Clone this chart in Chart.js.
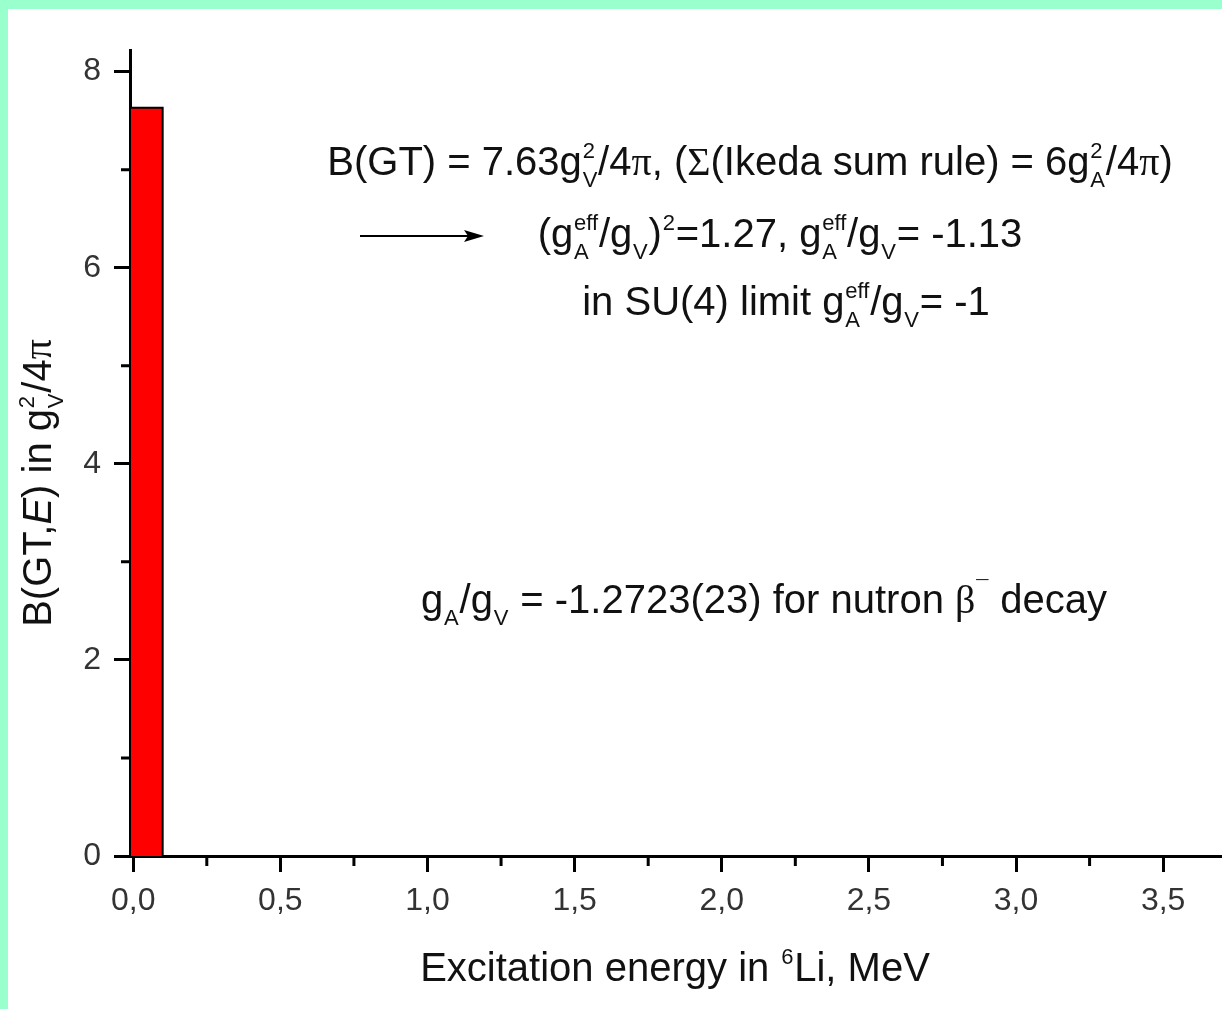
<!DOCTYPE html>
<html><head><meta charset="utf-8">
<script src="https://cdn.jsdelivr.net/npm/chart.js@4.4.1/dist/chart.umd.min.js"></script>
<style>
html,body{margin:0;padding:0;background:#99ffcc;overflow:hidden;width:1222px;height:1009px}
#wrap{position:absolute;left:8px;top:9px;width:1214px;height:1000px;background:#fff}
canvas{display:block}
</style></head><body><div id="wrap"><canvas id="c" width="1214" height="1000"></canvas></div>
<script>
// ---- data ----
const binLeft = [-0.011];
const binRight = [0.1];
const bgtValues = [7.63];
const xTickValues = [0, 0.5, 1.0, 1.5, 2.0, 2.5, 3.0, 3.5];
const yTickValues = [0, 2, 4, 6, 8];
const xMinorTicks = [0.25, 0.75, 1.25, 1.75, 2.25, 2.75, 3.25];
const yMinorTicks = [1, 3, 5, 7];
const xRange = [-0.011, 3.70];
const yRange = [0, 8.22];

// histogram outline built from the bins
const barPoints = [];
binLeft.forEach((l, i) => {
  barPoints.push({x: l, y: 0}, {x: l, y: bgtValues[i]}, {x: binRight[i], y: bgtValues[i]}, {x: binRight[i], y: 0});
});

const SANS = '"Liberation Sans", Arial, sans-serif';
const SERIF = '"Liberation Serif", "Times New Roman", serif';

function fontFor(p, size) {
  if (p.f === 'serif') return size + 'px ' + SERIF;
  if (p.f === 'italic') return 'italic ' + size + 'px ' + SANS;
  return size + 'px ' + SANS;
}
const SC = 0.55;
function partWidth(ctx, p, size) {
  if (typeof p === 'string') { ctx.font = size + 'px ' + SANS; return ctx.measureText(p).width; }
  if (p.t !== undefined) { ctx.font = fontFor(p, size); return ctx.measureText(p.t).width; }
  ctx.font = Math.round(size * SC) + 'px ' + SANS;
  const a = p.sup ? ctx.measureText(p.sup).width : 0;
  const b = p.sub ? ctx.measureText(p.sub).width : 0;
  return Math.max(a, b) + size * 0.04;
}
function richWidth(ctx, parts, size) {
  return parts.reduce((s, p) => s + partWidth(ctx, p, size), 0);
}
function drawRich(ctx, parts, cx, y, size, color) {
  ctx.save();
  ctx.fillStyle = color;
  ctx.textBaseline = 'alphabetic';
  ctx.textAlign = 'left';
  let x = cx - richWidth(ctx, parts, size) / 2;
  for (const p of parts) {
    const w = partWidth(ctx, p, size);
    if (typeof p === 'string') { ctx.font = size + 'px ' + SANS; ctx.fillText(p, x, y); }
    else if (p.t !== undefined) { ctx.font = fontFor(p, size); ctx.fillText(p.t, x, y); }
    else {
      ctx.font = Math.round(size * SC) + 'px ' + SANS;
      if (p.sup) ctx.fillText(p.sup, x + size * 0.02, y - size * 0.42);
      if (p.sub) ctx.fillText(p.sub, x + size * 0.02, y + size * 0.3);
    }
    x += w;
  }
  ctx.restore();
}

const line1 = ['B(GT) = 7.63g', {sup: '2', sub: 'V'}, '/4', {t: 'π', f: 'serif'}, ', (', {t: 'Σ', f: 'serif'}, '(Ikeda sum rule) = 6g', {sup: '2', sub: 'A'}, '/4', {t: 'π', f: 'serif'}, ')'];
const line2 = ['(g', {sup: 'eff', sub: 'A'}, '/g', {sub: 'V'}, ')', {sup: '2'}, '=1.27, g', {sup: 'eff', sub: 'A'}, '/g', {sub: 'V'}, '= -1.13'];
const line3 = ['in SU(4) limit g', {sup: 'eff', sub: 'A'}, '/g', {sub: 'V'}, '= -1'];
const line4 = ['g', {sub: 'A'}, '/g', {sub: 'V'}, ' = -1.2723(23) for nutron ', {t: 'β', f: 'serif'}, {sup: '¯'}, ' decay'];
const xTitle = ['Excitation energy in ', {sup: '6'}, 'Li, MeV'];
const yTitle = ['B(GT,', {t: 'E', f: 'italic'}, ') in g', {sup: '2', sub: 'V'}, '/4', {t: 'π', f: 'serif'}];

const extras = {
  id: 'extras',
  afterDraw(chart) {
    const ctx = chart.ctx;
    const xs = chart.scales.x, ys = chart.scales.y;
    const area = chart.chartArea;
    ctx.save();
    ctx.strokeStyle = '#000';
    ctx.lineWidth = 3;
    ctx.beginPath();
    xMinorTicks.forEach(v => {
      const px = xs.getPixelForValue(v);
      ctx.moveTo(px, area.bottom); ctx.lineTo(px, area.bottom + 10);
    });
    yMinorTicks.forEach(v => {
      const py = ys.getPixelForValue(v);
      ctx.moveTo(area.left, py); ctx.lineTo(area.left - 9, py);
    });
    ctx.stroke();
    // arrow
    ctx.lineWidth = 2;
    ctx.beginPath(); ctx.moveTo(352, 227); ctx.lineTo(466, 227); ctx.stroke();
    ctx.fillStyle = '#000';
    ctx.beginPath(); ctx.moveTo(476, 227); ctx.lineTo(456, 221); ctx.lineTo(460, 227); ctx.lineTo(456, 233); ctx.closePath(); ctx.fill();
    ctx.restore();

    const TXT = '#111';
    drawRich(ctx, line1, 742, 166, 40, TXT);
    drawRich(ctx, line2, 772, 238, 40, TXT);
    drawRich(ctx, line3, 778, 306, 40, TXT);
    drawRich(ctx, line4, 756, 604, 40, TXT);
    drawRich(ctx, xTitle, 667, 972, 40, TXT);
    ctx.save();
    ctx.translate(43, 474);
    ctx.rotate(-Math.PI / 2);
    drawRich(ctx, yTitle, 0, 0, 40, TXT);
    ctx.restore();
  }
};

const tickFont = {family: SANS, size: 32};
new Chart(document.getElementById('c'), {
  type: 'line',
  data: {
    datasets: [{
      data: barPoints,
      backgroundColor: '#ff0000',
      borderColor: '#000',
      borderWidth: 2,
      fill: 'origin',
      pointRadius: 0,
      tension: 0
    }]
  },
  options: {
    responsive: false,
    animation: false,
    devicePixelRatio: 1,
    layout: {padding: {top: 41, left: 0, right: 0, bottom: 0}},
    plugins: {legend: {display: false}, tooltip: {enabled: false}},
    scales: {
      x: {
        type: 'linear', min: xRange[0], max: xRange[1],
        afterBuildTicks: s => { s.ticks = xTickValues.map(v => ({value: v})); },
        afterFit: s => { s.height = 153; },
        ticks: {font: tickFont, color: '#333', padding: 10, maxRotation: 0, autoSkip: false,
          callback: v => v.toFixed(1).replace('.', ',')},
        grid: {drawOnChartArea: false, drawTicks: true, tickLength: 16, tickWidth: 3, tickColor: '#000'},
        border: {display: true, color: '#000', width: 3}
      },
      y: {
        type: 'linear', min: yRange[0], max: yRange[1],
        afterBuildTicks: s => { s.ticks = yTickValues.map(v => ({value: v})); },
        afterFit: s => { s.width = 122; },
        ticks: {font: tickFont, color: '#333', padding: 13, autoSkip: false,
          callback: v => String(v)},
        grid: {drawOnChartArea: false, drawTicks: true, tickLength: 16, tickWidth: 3, tickColor: '#000'},
        border: {display: true, color: '#000', width: 3}
      }
    }
  },
  plugins: [extras]
});
</script>
</body></html>
